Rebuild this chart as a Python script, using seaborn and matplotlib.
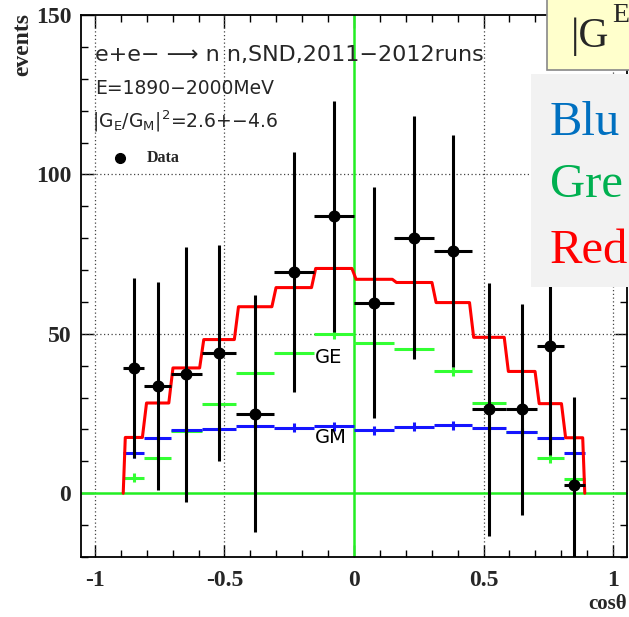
import numpy as np
import pandas as pd
import matplotlib
matplotlib.use("Agg")
import matplotlib.pyplot as plt
import seaborn as sns
from matplotlib.patches import Rectangle
from matplotlib.ticker import MultipleLocator, FixedLocator, FuncFormatter

# ---- data ----
bin_edges = [-0.891, -0.809, -0.707, -0.588, -0.454, -0.309, -0.156, 0.0,
             0.156, 0.309, 0.454, 0.588, 0.707, 0.809, 0.891]
data_events = [39.2, 33.7, 37.3, 44.0, 25.0, 69.4, 86.9, 59.8, 80.2, 76.0, 26.3, 26.3, 46.1, 2.5]
data_errors = [28.2, 32.6, 40.0, 34.0, 37.1, 37.5, 36.2, 36.1, 38.1, 36.3, 39.6, 33.0, 34.2, 27.7]
total_fit = [17.5, 28.3, 39.3, 48.2, 58.5, 64.5, 70.5, 67.1, 66.1, 59.8, 48.9, 38.2, 28.1, 17.4]
gm_part = [12.5, 17.4, 19.8, 20.3, 21.0, 20.5, 21.0, 19.8, 20.8, 21.3, 20.6, 19.1, 17.2, 12.5]
ge_part = [4.8, 11.2, 19.5, 27.9, 37.6, 44.1, 49.8, 47.2, 45.1, 38.3, 28.3, 19.2, 10.9, 4.6]
x_ticks = [-1, -0.5, 0, 0.5, 1]
y_ticks = [0, 50, 100, 150]

edges = np.array(bin_edges)
centers = 0.5 * (edges[:-1] + edges[1:])
halfw = 0.5 * (edges[1:] - edges[:-1])
df = pd.DataFrame({"cos": centers, "events": data_events, "err": data_errors,
                   "total": total_fit, "gm": gm_part, "ge": ge_part, "hw": halfw})

sns.set_theme(style="white")
plt.rcParams["font.family"] = ["DejaVu Sans"]

fig = plt.figure(figsize=(6.29, 6.17), dpi=100)
ax = fig.add_axes([81 / 629, 1 - 557 / 617, (627 - 81) / 629, (557 - 15) / 617])
ax.set_xlim(-1.054, 1.054)
ax.set_ylim(-20, 150)

# grid (dotted)
for gx in [-1, -0.5, 0.5, 1]:
    ax.axvline(gx, color="#444444", ls=(0, (1, 2)), lw=0.9, zorder=1)
for gy in [50, 100]:
    ax.axhline(gy, color="#444444", ls=(0, (1, 2)), lw=0.9, zorder=1)

# green zero lines
ax.axhline(0, color="#22ee22", lw=1.8, zorder=2)
ax.axvline(0, color="#22ee22", lw=1.8, zorder=2)

# GE and GM components: horizontal bin bars with small centre ticks
ax.errorbar(df["cos"], df["ge"], xerr=df["hw"], yerr=1.4, fmt="none",
            ecolor="#33ff33", elinewidth=2.2, capsize=0, zorder=3)
ax.errorbar(df["cos"], df["gm"], xerr=df["hw"], yerr=1.4, fmt="none",
            ecolor="#1515ff", elinewidth=2.2, capsize=0, zorder=3)

# total fit: stepped red line
d = 0.008
xs, ys = [edges[0]], [0.0]
for i, v in enumerate(total_fit):
    xs += [edges[i] + d, edges[i + 1] - d]
    ys += [v, v]
xs.append(edges[-1])
ys.append(0.0)
step_df = pd.DataFrame({"x": xs, "y": ys})
sns.lineplot(data=step_df, x="x", y="y", ax=ax, color="#ff0000", lw=2.2,
             sort=False, estimator=None, zorder=4)
ax.errorbar(df["cos"], df["total"], yerr=1.4, fmt="none", ecolor="#ff0000",
            elinewidth=2.0, capsize=0, zorder=4)

# data points
ax.errorbar(df["cos"], df["events"], xerr=df["hw"], yerr=df["err"], fmt="none",
            ecolor="black", elinewidth=2.2, capsize=0, zorder=5)
sns.scatterplot(data=df, x="cos", y="events", ax=ax, color="black", s=75,
                edgecolor="black", linewidth=0, zorder=6)

ax.text(-0.15, 42.5, "GE", fontsize=14, color="black", va="center", ha="left", zorder=7)
ax.text(-0.15, 17.5, "GM", fontsize=14, color="black", va="center", ha="left", zorder=7)

# ticks ROOT style
ax.xaxis.set_major_locator(FixedLocator(x_ticks))
ax.xaxis.set_minor_locator(MultipleLocator(0.1))
ax.yaxis.set_major_locator(FixedLocator(y_ticks))
ax.yaxis.set_minor_locator(MultipleLocator(10))
ax.xaxis.set_major_formatter(FuncFormatter(lambda v, p: f"{v:g}"))
ax.yaxis.set_major_formatter(FuncFormatter(lambda v, p: f"{v:g}"))
ax.tick_params(which="both", direction="in", top=True, right=True, bottom=True, left=True,
               color="black")
ax.tick_params(which="major", length=9, width=1.0)
ax.tick_params(which="minor", length=5, width=1.0)
ax.tick_params(axis="x", which="major", pad=9)
ax.tick_params(axis="y", which="major", pad=7)
for lab in ax.get_xticklabels() + ax.get_yticklabels():
    lab.set_fontfamily("Liberation Serif")
    lab.set_fontweight("bold")
    lab.set_fontsize(17)
for s in ax.spines.values():
    s.set_color("black")
    s.set_linewidth(1.3)

ax.set_xlabel("")
ax.set_ylabel("")
fig.text(23 / 629, 1 - 45 / 617, "events", rotation=90, ha="center", va="center",
         fontfamily="Liberation Serif", fontweight="bold", fontsize=17)
fig.text(627 / 629, 1 - 604 / 617, "cos\u03b8", ha="right", va="center",
         fontfamily="Liberation Serif", fontweight="bold", fontsize=15)

# annotations in the upper left
fig.text(95 / 629, 1 - 55 / 617, "e+e\u2212 \u27f6 n n,SND,2011\u22122012runs",
         fontsize=16, ha="left", va="center", family=["DejaVu Sans"])
fig.text(95 / 629, 1 - 89 / 617, "E=1890\u22122000MeV", fontsize=13.5, ha="left", va="center")
fig.text(92 / 629, 1 - 121 / 617, r"$|\mathrm{G_E/G_M}|^2$=2.6+" + "\u22124.6",
         fontsize=13.5, ha="left", va="center")
ax.plot([120 / 629], [1 - 158 / 617], "o", color="black", ms=7, transform=fig.transFigure,
        clip_on=False)
fig.text(147 / 629, 1 - 158 / 617, "Data", fontfamily="Liberation Serif", fontweight="bold",
         fontsize=11.5, ha="left", va="center")

# overlay boxes (pasted slide elements on the right)
fig.patches.append(Rectangle((547 / 629, 1 - 70 / 617), 0.2, 70 / 617 + 0.01,
                             transform=fig.transFigure, facecolor="#ffffcc",
                             edgecolor="#888888", lw=1.2, zorder=10))
fig.text(571 / 629, 1 - 47 / 617, "|G", fontfamily="Liberation Serif", fontsize=30,
         ha="left", va="baseline", zorder=11)
fig.text(612 / 629, 1 - 22 / 617, "E", fontfamily="Liberation Serif", fontsize=20,
         ha="left", va="baseline", zorder=11)
fig.patches.append(Rectangle((531 / 629, 1 - 287 / 617), 0.2, (287 - 74) / 617,
                             transform=fig.transFigure, facecolor="#f2f2f2",
                             edgecolor="none", zorder=10))
for txt, col, base in [("Blu", "#0070c0", 135), ("Gre", "#00b050", 197), ("Red", "#ff0000", 263)]:
    fig.text(550 / 629, 1 - base / 617, txt, color=col, fontfamily="Liberation Serif",
             fontsize=35, ha="left", va="baseline", zorder=11)

fig.savefig("out.png", dpi=100)
